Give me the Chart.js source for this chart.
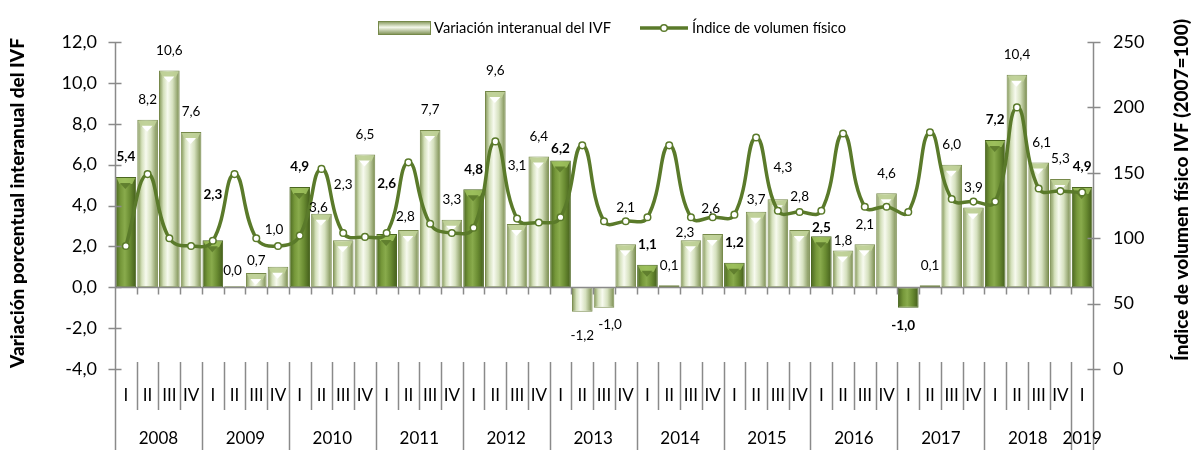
<!DOCTYPE html>
<html>
<head>
<meta charset="utf-8">
<script src="https://cdn.jsdelivr.net/npm/chart.js@4/dist/chart.umd.min.js"></script>
<style>
html,body{margin:0;padding:0;background:#ffffff;}
#wrap{width:1193px;height:450px;position:relative;}
</style>
</head>
<body>
<div id="wrap"><canvas id="c" width="1193" height="450"></canvas></div>
<script>
// ---------- DATA ----------
const quarterLabels = [
  'I','II','III','IV', 'I','II','III','IV', 'I','II','III','IV', 'I','II','III','IV',
  'I','II','III','IV', 'I','II','III','IV', 'I','II','III','IV', 'I','II','III','IV',
  'I','II','III','IV', 'I','II','III','IV', 'I','II','III','IV', 'I'
];
const yearLabels = ['2008','2009','2010','2011','2012','2013','2014','2015','2016','2017','2018','2019'];
const variacionIVF = [
  5.4, 8.2, 10.6, 7.6,
  2.3, 0.0, 0.7, 1.0,
  4.9, 3.6, 2.3, 6.5,
  2.6, 2.8, 7.7, 3.3,
  4.8, 9.6, 3.1, 6.4,
  6.2, -1.2, -1.0, 2.1,
  1.1, 0.1, 2.3, 2.6,
  1.2, 3.7, 4.3, 2.8,
  2.5, 1.8, 2.1, 4.6,
  -1.0, 0.1, 6.0, 3.9,
  7.2, 10.4, 6.1, 5.3,
  4.9
];
const indiceIVF = [
  94, 149, 100, 94,
  98, 149, 100, 94,
  102, 153, 104, 101,
  104, 158, 111, 104,
  108, 174, 115, 112,
  116, 171, 113, 113,
  116, 171, 116, 116,
  118, 177, 121, 120,
  121, 180, 124, 124,
  120, 181, 130, 128,
  128, 200, 138, 136,
  135
];
const leftTicks = [-4, -2, 0, 2, 4, 6, 8, 10, 12];
const rightTicks = [0, 50, 100, 150, 200, 250];
const seriesNames = ['Variación interanual del IVF', 'Índice de volumen físico'];
const axisTitles = ['Variación porcentual interanual del IVF', 'Índice de volumen físico IVF (2007=100)'];

// ---------- STYLE ----------
const FONT = 'Lato';
const LINE_COLOR = '#5a7a2a';
const AXIS_COLOR = '#8a8a8a';
const fmt = v => v.toFixed(1).replace('.', ',');
// label nudges [dx, dy] : dy = distance of label centre from bar end
const LABEL_DEFAULT = 20;
const LABEL_NUDGE = {
  4:[0,46], 5:[-2,18], 6:[0,12], 7:[-4,37], 9:[-3,6], 10:[0,56], 12:[0,50], 13:[-3,13],
  18:[0,58], 20:[0,12], 21:[0,24], 22:[6,17], 23:[0,37], 26:[-6,8], 27:[-2,25],
  29:[0,12], 30:[5,32], 31:[0,33], 32:[0,9], 33:[0,10], 36:[-5,18], 42:[3,20]
};

function isQ1(i){ return quarterLabels[i] === 'I'; }

function barFill(c){
  const chart = c.chart;
  const xs = chart.scales.x;
  const i = c.dataIndex;
  const dark = isQ1(i);
  if (!xs || c.type !== 'data' || !isFinite(xs.getPixelForValue(i))) return dark ? '#6b8c35' : '#c9d6ad';
  const cx = xs.getPixelForValue(i);
  const w = (xs.right - xs.left) / quarterLabels.length * 0.95;
  const g = chart.ctx.createLinearGradient(cx - w/2, 0, cx + w/2, 0);
  if (dark) {
    g.addColorStop(0, '#4a6620');
    g.addColorStop(0.25, '#76983a');
    g.addColorStop(0.45, '#89ab4c');
    g.addColorStop(0.7, '#6a8c32');
    g.addColorStop(1, '#425c1a');
  } else {
    g.addColorStop(0, '#7d9150');
    g.addColorStop(0.22, '#d4e0bb');
    g.addColorStop(0.42, '#f7faef');
    g.addColorStop(0.66, '#d6e1bf');
    g.addColorStop(1, '#76894a');
  }
  return g;
}

const decoPlugin = {
  id: 'deco',
  afterDatasetDraw(chart, args) {
    if (args.meta.type !== 'bar') return;
    const ctx = chart.ctx;
    ctx.save();
    args.meta.data.forEach((bar, i) => {
      const v = variacionIVF[i];
      const w = bar.width;
      const L = bar.x - w/2 + 1, R = bar.x + w/2 - 1;
      if (v > 0.3) {
        const top = bar.y + 1;
        const dark = isQ1(i);
        ctx.fillStyle = dark ? 'rgba(160,195,95,0.85)' : 'rgba(190,208,150,0.95)';
        ctx.beginPath();
        ctx.moveTo(L, top); ctx.lineTo(R, top); ctx.lineTo(R - 3, top + 6); ctx.lineTo(L + 3, top + 6); ctx.closePath();
        ctx.fill();
        ctx.fillStyle = dark ? 'rgba(95,125,45,0.95)' : 'rgba(255,255,255,0.98)';
        ctx.beginPath();
        ctx.moveTo(bar.x - 6, top + 5); ctx.lineTo(bar.x + 5, top + 5); ctx.lineTo(bar.x - 0.5, top + 11); ctx.closePath();
        ctx.fill();
      }
    });
    // zero line with ticks
    const xs = chart.scales.x, ys = chart.scales.y;
    const y0 = Math.round(ys.getPixelForValue(0)) + 0.5;
    ctx.strokeStyle = AXIS_COLOR; ctx.lineWidth = 1.5;
    ctx.beginPath();
    ctx.moveTo(xs.left, y0); ctx.lineTo(xs.right, y0);
    for (let k = 1; k < quarterLabels.length; k++) {
      const bx = Math.round(xs.getPixelForValue(k - 0.5)) + 0.5;
      ctx.moveTo(bx, y0); ctx.lineTo(bx, y0 + 7);
    }
    ctx.stroke();
    ctx.restore();
  },
  afterDraw(chart) {
    const ctx = chart.ctx;
    const xs = chart.scales.x, ys = chart.scales.y, y2 = chart.scales.y2;
    const area = chart.chartArea;
    ctx.save();
    // axes lines + ticks
    ctx.strokeStyle = AXIS_COLOR; ctx.lineWidth = 1.5;
    ctx.beginPath();
    const lx = Math.round(area.left) + 0.5, rx = Math.round(area.right) + 0.5;
    ctx.moveTo(lx, area.top); ctx.lineTo(lx, 450);
    ctx.moveTo(rx, area.top); ctx.lineTo(rx, 450);
    leftTicks.forEach(t => { const y = Math.round(ys.getPixelForValue(t)) + 0.5; ctx.moveTo(lx - 7, y); ctx.lineTo(lx + 6, y); });
    rightTicks.forEach(t => { const y = Math.round(y2.getPixelForValue(t)) + 0.5; ctx.moveTo(rx - 6, y); ctx.lineTo(rx + 7, y); });
    // category separators
    for (let k = 1; k < quarterLabels.length; k++) {
      const bx = Math.round(xs.getPixelForValue(k - 0.5)) + 0.5;
      ctx.moveTo(bx, 362); ctx.lineTo(bx, k % 4 === 0 ? 450 : 410);
    }
    ctx.stroke();
    // quarter and year labels
    ctx.fillStyle = '#000';
    ctx.textAlign = 'center'; ctx.textBaseline = 'middle';
    ctx.font = '17px ' + FONT;
    quarterLabels.forEach((q, i) => ctx.fillText(q, xs.getPixelForValue(i), 396));
    yearLabels.forEach((yl, j) => {
      const first = j * 4, last = Math.min(j * 4 + 3, quarterLabels.length - 1);
      const cx = (xs.getPixelForValue(first) + xs.getPixelForValue(last)) / 2;
      ctx.fillText(yl, cx, 439);
    });
    // data labels
    const meta = chart.getDatasetMeta(1);
    meta.data.forEach((bar, i) => {
      const v = variacionIVF[i];
      const nd = LABEL_NUDGE[i] || [0, LABEL_DEFAULT];
      ctx.font = (isQ1(i) ? 'bold ' : '') + '13.5px ' + FONT;
      const y = v >= 0 ? bar.y - nd[1] : bar.y + nd[1];
      ctx.fillText(fmt(v), bar.x + nd[0], y);
    });
    // axis titles
    ctx.font = '900 19px ' + FONT;
    ctx.textBaseline = 'alphabetic';
    ctx.save(); ctx.translate(24, 203); ctx.rotate(-Math.PI/2); ctx.fillText(axisTitles[0], 0, 0, 356); ctx.restore();
    ctx.save(); ctx.translate(1188, 190); ctx.rotate(-Math.PI/2); ctx.fillText(axisTitles[1], 0, 0, 360); ctx.restore();
    // legend
    const sg = ctx.createLinearGradient(0, 21, 0, 35);
    sg.addColorStop(0, '#7d9150'); sg.addColorStop(0.45, '#f4f8ea'); sg.addColorStop(1, '#76894a');
    ctx.fillStyle = sg; ctx.fillRect(378, 21, 53, 14);
    ctx.strokeStyle = '#76894a'; ctx.lineWidth = 1; ctx.strokeRect(378.5, 21.5, 52, 13);
    ctx.fillStyle = '#000'; ctx.textAlign = 'left'; ctx.font = '15px ' + FONT;
    ctx.fillText(seriesNames[0], 434, 33, 177);
    ctx.strokeStyle = LINE_COLOR; ctx.lineWidth = 3.5;
    ctx.beginPath(); ctx.moveTo(640, 28); ctx.lineTo(688, 28); ctx.stroke();
    ctx.fillStyle = '#fff'; ctx.lineWidth = 1.5;
    ctx.beginPath(); ctx.arc(664, 28, 3.3, 0, Math.PI*2); ctx.fill(); ctx.stroke();
    ctx.fillStyle = '#000';
    ctx.fillText(seriesNames[1], 692, 33, 154);
    ctx.restore();
  }
};

new Chart(document.getElementById('c').getContext('2d'), {
  data: {
    labels: quarterLabels,
    datasets: [
      {
        type: 'line', label: seriesNames[1], data: indiceIVF, yAxisID: 'y2', order: 0,
        borderColor: LINE_COLOR, borderWidth: 3.5, tension: 0.45,
        pointRadius: 3.3, pointBackgroundColor: '#ffffff', pointBorderColor: LINE_COLOR, pointBorderWidth: 1.5
      },
      {
        type: 'bar', label: seriesNames[0], data: variacionIVF, yAxisID: 'y', order: 1,
        backgroundColor: barFill,
        borderColor: c => isQ1(c.dataIndex) ? '#4a6620' : '#76894a',
        borderWidth: 1, borderSkipped: false,
        barPercentage: 0.95, categoryPercentage: 1.0, minBarLength: 2
      }
    ]
  },
  options: {
    responsive: false, animation: false, devicePixelRatio: 1,
    layout: { padding: { top: 42, bottom: 81, left: 0, right: 0 } },
    plugins: { legend: { display: false }, tooltip: { enabled: false } },
    scales: {
      x: { type: 'category', display: false, offset: true },
      y: {
        position: 'left', min: -4, max: 12,
        afterBuildTicks: s => { s.ticks = leftTicks.map(v => ({ value: v })); },
        afterFit: s => { s.width = 115; },
        ticks: { callback: v => fmt(v), font: { family: FONT, size: 18 }, color: '#000', padding: 18 },
        grid: { display: false, drawTicks: false }, border: { display: false }
      },
      y2: {
        position: 'right', min: 0, max: 250,
        afterBuildTicks: s => { s.ticks = rightTicks.map(v => ({ value: v })); },
        afterFit: s => { s.width = 100; },
        ticks: { callback: v => String(v), font: { family: FONT, size: 18 }, color: '#000', padding: 20 },
        grid: { display: false, drawTicks: false }, border: { display: false }
      }
    }
  },
  plugins: [decoPlugin]
});
</script>
</body>
</html>
